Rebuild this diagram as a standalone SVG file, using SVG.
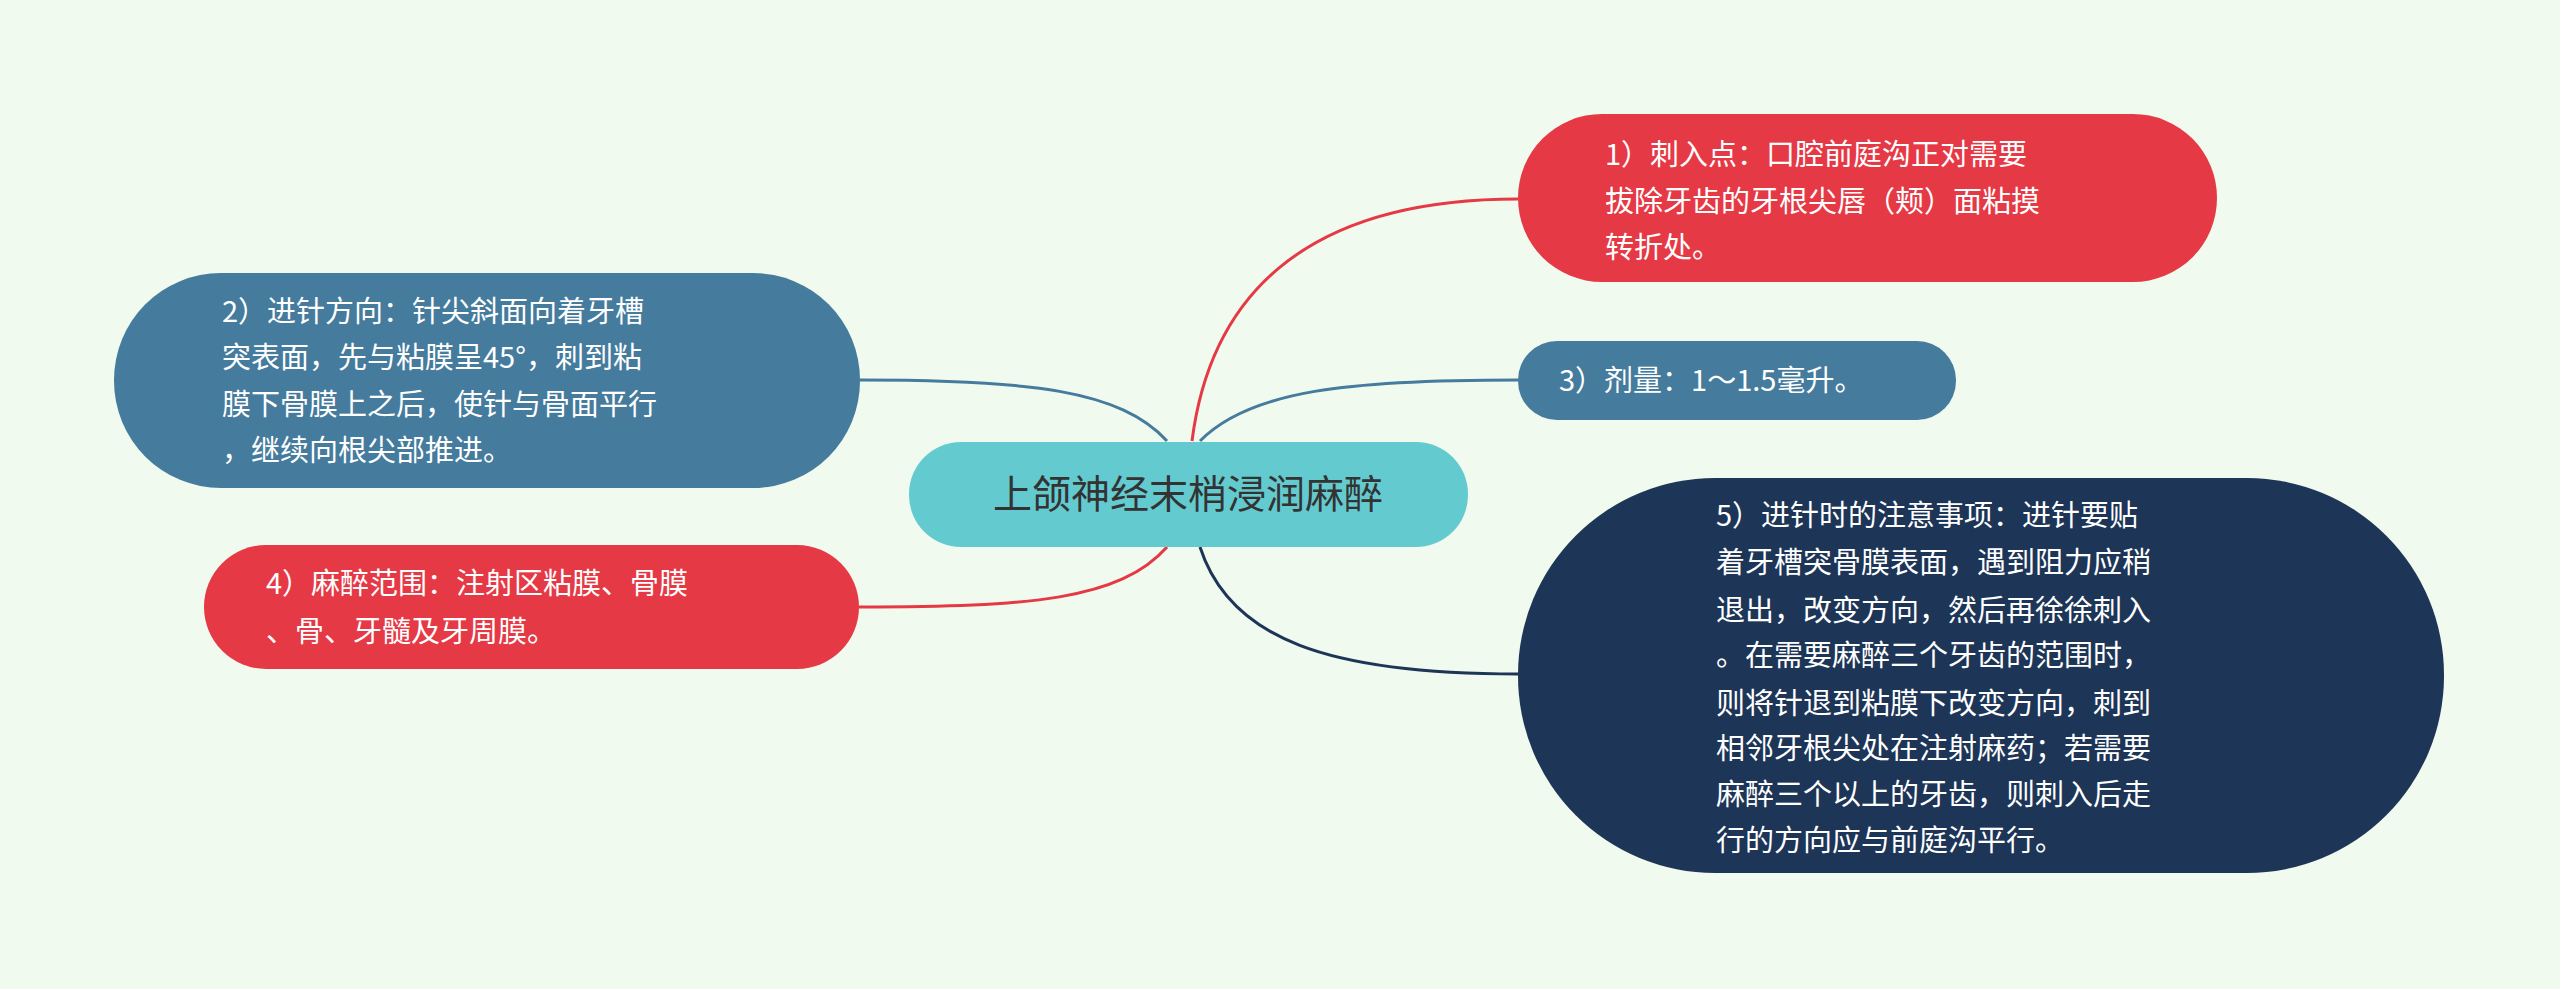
<svg xmlns="http://www.w3.org/2000/svg" width="2560" height="989" viewBox="0 0 2560 989">
<style>
text{font-family:"Noto Sans CJK SC","Liberation Sans",sans-serif;font-size:29px;fill:#fff}
.c{fill:none;stroke-width:3}
</style>
<rect width="2560" height="989" fill="#f1faee"/>
<g id="connectors">
<path class="c" stroke="#e63946" d="M1192,441 C1210,300 1300,199 1518,199"/>
<path class="c" stroke="#457b9d" d="M1200,441 C1250,390 1350,380 1518,380"/>
<path class="c" stroke="#1d3557" d="M1200,547 C1230,640 1330,674 1518,674"/>
<path class="c" stroke="#457b9d" d="M1167,441 C1120,390 1030,380 860,380"/>
<path class="c" stroke="#e63946" d="M1167,547 C1120,600 1030,607 859,607"/>
</g>
<g id="center">
<rect x="909" y="442" width="559" height="105" rx="52" fill="#63cbd0"/>
<text x="1188" y="508" text-anchor="middle" style="font-size:39px;fill:#333">上颌神经末梢浸润麻醉</text>
</g>
<g id="n1">
<rect x="1518" y="114" width="699" height="168" rx="84" fill="#e63946"/>
<text x="1605" y="165">1）刺入点：口腔前庭沟正对需要</text>
<text x="1605" y="212">拔除牙齿的牙根尖唇（颊）面粘摸</text>
<text x="1605" y="258">转折处。</text>
</g>
<g id="n3">
<rect x="1518" y="341" width="438" height="79" rx="39" fill="#457b9d"/>
<text x="1559" y="391">3）剂量：1～1.5毫升。</text>
</g>
<g id="n5">
<rect x="1518" y="478" width="926" height="395" rx="197" fill="#1d3557"/>
<text x="1716" y="526">5）进针时的注意事项：进针要贴</text>
<text x="1716" y="573">着牙槽突骨膜表面，遇到阻力应稍</text>
<text x="1716" y="621">退出，改变方向，然后再徐徐刺入</text>
<text x="1716" y="666">。在需要麻醉三个牙齿的范围时，</text>
<text x="1716" y="714">则将针退到粘膜下改变方向，刺到</text>
<text x="1716" y="759">相邻牙根尖处在注射麻药；若需要</text>
<text x="1716" y="805">麻醉三个以上的牙齿，则刺入后走</text>
<text x="1716" y="851">行的方向应与前庭沟平行。</text>
</g>
<g id="n2">
<rect x="114" y="273" width="746" height="215" rx="107" fill="#457b9d"/>
<text x="222" y="322">2）进针方向：针尖斜面向着牙槽</text>
<text x="222" y="368">突表面，先与粘膜呈45°，刺到粘</text>
<text x="222" y="415">膜下骨膜上之后，使针与骨面平行</text>
<text x="222" y="461">，继续向根尖部推进。</text>
</g>
<g id="n4">
<rect x="204" y="545" width="655" height="124" rx="62" fill="#e63946"/>
<text x="266" y="594">4）麻醉范围：注射区粘膜、骨膜</text>
<text x="266" y="642">、骨、牙髓及牙周膜。</text>
</g>
</svg>
